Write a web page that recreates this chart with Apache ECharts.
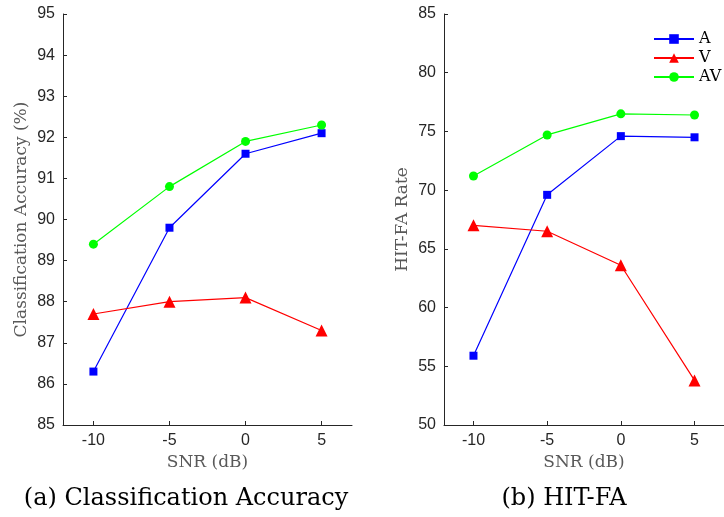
<!DOCTYPE html>
<html>
<head>
<meta charset="utf-8">
<script src="https://cdn.jsdelivr.net/npm/echarts@6/dist/echarts.min.js"></script>
<style>
html,body{margin:0;padding:0;background:#fff;}
#c{width:724px;height:517px;}
</style>
</head>
<body>
<div id="c"></div>
<script>
const snr = [-10, -5, 0, 5];
const xTicks = [-10, -5, 0, 5];
const seriesNames = ['A', 'V', 'AV'];
const accA = [86.3, 89.8, 91.6, 92.1];
const accV = [87.7, 88.0, 88.1, 87.3];
const accAV = [89.4, 90.8, 91.9, 92.3];
const hitA = [55.9, 69.6, 74.6, 74.5];
const hitV = [67.0, 66.5, 63.6, 53.8];
const hitAV = [71.2, 74.7, 76.5, 76.4];
const captions = ['(a) Classification Accuracy', '(b) HIT-FA'];
const yNames = ['Classification Accuracy (%)', 'HIT-FA Rate'];
const xName = 'SNR (dB)';

const colors = ['#0000ff', '#ff0000', '#00ff00'];
const symbols = ['rect', 'triangle', 'circle'];
const symSizes = [8, 12, 9];
const axisColor = '#262626';
const serif = 'DejaVu Serif';
const sans = 'Liberation Sans';

function zip(xs, ys) { return xs.map((x, i) => [x, ys[i]]); }

function xAxis(gi) {
  return {
    type: 'value', gridIndex: gi, min: -12, max: 7,
    name: xName, nameLocation: 'middle', nameGap: 27,
    nameTextStyle: { fontFamily: serif, fontSize: 17, color: '#595959' },
    axisLine: { onZero: false, lineStyle: { color: axisColor, width: 1 } },
    axisTick: { inside: true, length: 4, customValues: xTicks, lineStyle: { color: axisColor } },
    axisLabel: { customValues: xTicks, fontFamily: sans, fontSize: 16, color: axisColor, margin: 8 },
    splitLine: { show: false }
  };
}
function yAxis(gi, min, max, interval) {
  return {
    type: 'value', gridIndex: gi, min: min, max: max, interval: interval,
    name: yNames[gi], nameLocation: 'middle', nameGap: 33,
    nameTextStyle: { fontFamily: serif, fontSize: 17, color: '#595959' },
    axisLine: { show: true, onZero: false, lineStyle: { color: axisColor, width: 1 } },
    axisTick: { show: true, inside: true, length: 4, lineStyle: { color: axisColor } },
    axisLabel: { fontFamily: sans, fontSize: 16, color: axisColor, margin: 8 },
    splitLine: { show: false }
  };
}
function mk(gi, name, idx, data) {
  return {
    type: 'line', name: name, xAxisIndex: gi, yAxisIndex: gi,
    data: zip(snr, data), symbol: symbols[idx], symbolSize: symSizes[idx],
    showSymbol: true, animation: false,
    lineStyle: { color: colors[idx], width: 1.2 },
    itemStyle: { color: colors[idx] }
  };
}

const chart = echarts.init(document.getElementById('c'), null, { renderer: 'canvas' });
chart.setOption({
  animation: false,
  grid: [
    { left: 63, top: 14, width: 289, height: 411 },
    { left: 444, top: 14, width: 290, height: 411 }
  ],
  xAxis: [xAxis(0), xAxis(1)],
  yAxis: [yAxis(0, 85, 95, 1), yAxis(1, 50, 85, 5)],
  legend: {
    data: seriesNames, orient: 'vertical', left: 653, top: 31, padding: 0,
    itemWidth: 40, itemHeight: 12, itemGap: 3,
    textStyle: { fontFamily: serif, fontSize: 16, color: '#000', lineHeight: 12 }
  },
  series: [
    mk(0, 'A', 0, accA), mk(0, 'V', 1, accV), mk(0, 'AV', 2, accAV),
    mk(1, 'A', 0, hitA), mk(1, 'V', 1, hitV), mk(1, 'AV', 2, hitAV)
  ],
  graphic: [
    { type: 'text', x: 186, y: 499, style: { text: captions[0], font: '24px "' + serif + '"', fill: '#000', align: 'center', verticalAlign: 'middle' } },
    { type: 'text', x: 564, y: 499, style: { text: captions[1], font: '24px "' + serif + '"', fill: '#000', align: 'center', verticalAlign: 'middle' } }
  ]
});
</script>
</body>
</html>
